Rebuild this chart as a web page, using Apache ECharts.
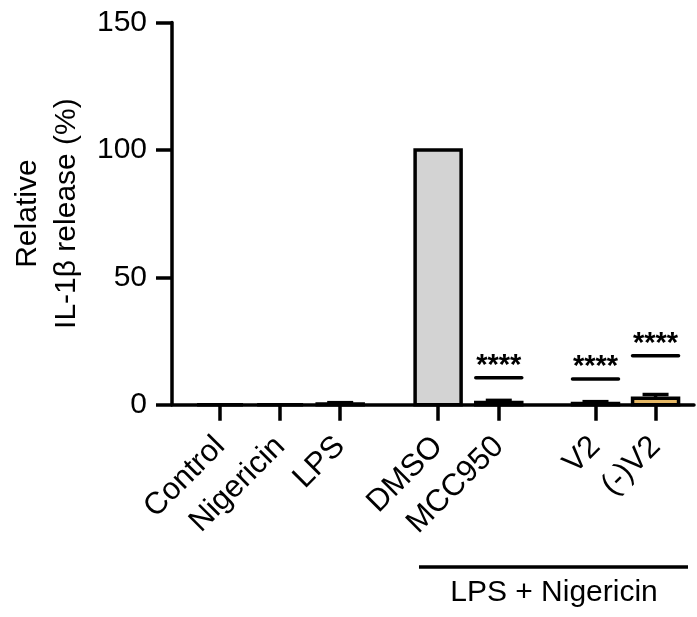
<!DOCTYPE html>
<html><head><meta charset="utf-8">
<script src="https://cdn.jsdelivr.net/npm/echarts@6/dist/echarts.min.js"></script>
<style>html,body{margin:0;padding:0;background:#fff}#c{width:697px;height:617px}</style>
</head><body><div id="c"></div>
<script>
// ---- data ----
const categories = ['Control', 'Nigericin', 'LPS', 'DMSO', 'MCC950', 'V2', '(-)V2'];
const meanValues = [0, 0, 0.3, 100, 0.9, 0.5, 2.5];
const upperErrors = [null, null, 0.8, null, 1.7, 1.2, 4.0];
const yTickLabels = [0, 50, 100, 150];
const sigGroups = ['MCC950', 'V2', '(-)V2'];
const sigLevels = [10.6, 10.1, 19.2];
const sigLabels = ['****', '****', '****'];
const groupLabel = 'LPS + Nigericin';
const yTitle = 'Relative\nIL-1β release (%)';

// ---- layout / style ----
const slotPositions = [0, 1, 2, 3.63, 4.64, 6.25, 7.25];
const barFills = ['#d3d3d3', '#d3d3d3', '#d3d3d3', '#d3d3d3', '#d3d3d3', '#d3d3d3', '#e6b865'];
const FONT = 'Liberation Sans, Arial, sans-serif';
const LW = 3.5;

function nameAt(v) {
  let best = 0, d = Infinity;
  slotPositions.forEach((p, i) => { if (Math.abs(p - v) < d) { d = Math.abs(p - v); best = i; } });
  return categories[best];
}

const barData = categories.map((c, i) => [slotPositions[i], meanValues[i], upperErrors[i] == null ? '-' : upperErrors[i]]);
const sigData = sigGroups.map((g, k) => [slotPositions[categories.indexOf(g)], sigLevels[k], sigLabels[k]]);

function renderBar(params, api) {
  const i = params.dataIndex;
  const x = api.value(0), m = api.value(1), up = api.value(2);
  const base = api.coord([x, 0]);
  const top = api.coord([x, m]);
  const w = 46;
  const children = [{
    type: 'rect',
    shape: { x: base[0] - w / 2, y: top[1], width: w, height: base[1] - top[1] },
    style: { fill: barFills[i], stroke: '#000', lineWidth: LW }
  }];
  if (up != null && !isNaN(up) && up > m) {
    const pu = api.coord([x, up]);
    children.push({ type: 'line', shape: { x1: top[0], y1: top[1], x2: pu[0], y2: pu[1] }, style: { stroke: '#000', lineWidth: LW } });
    children.push({ type: 'line', shape: { x1: pu[0] - 13, y1: pu[1], x2: pu[0] + 13, y2: pu[1] }, style: { stroke: '#000', lineWidth: LW, lineCap: 'butt' } });
  }
  return { type: 'group', children };
}

function renderSig(params, api) {
  const x = api.value(0), lv = api.value(1);
  const p = api.coord([x, lv]);
  return {
    type: 'group',
    children: [
      { type: 'line', shape: { x1: p[0] - 23, y1: p[1], x2: p[0] + 23, y2: p[1] }, style: { stroke: '#000', lineWidth: LW, lineCap: 'round' } },
      { type: 'text', x: p[0], y: p[1] - 12, style: { text: sigData[params.dataIndex][2], fontSize: 29, fontWeight: 'bold', fontFamily: FONT, fill: '#000', align: 'center', verticalAlign: 'middle' } }
    ]
  };
}

const chart = echarts.init(document.getElementById('c'), null, { renderer: 'canvas' });
chart.setOption({
  animation: false,
  backgroundColor: '#fff',
  textStyle: { fontFamily: FONT },
  grid: { left: 170, right: 3, top: 22.5, bottom: 212.3, containLabel: false },
  xAxis: {
    type: 'value', min: -0.8, max: 7.89,
    splitLine: { show: false },
    axisLine: { show: true, onZero: false, lineStyle: { color: '#000', width: LW } },
    axisTick: { show: true, customValues: slotPositions, length: 16, inside: false, lineStyle: { color: '#000', width: LW } },
    axisLabel: { customValues: slotPositions, rotate: 45, margin: 37, fontSize: 31, color: '#000', fontFamily: FONT, formatter: v => nameAt(v) }
  },
  yAxis: {
    type: 'value', min: 0, max: 150, interval: 50,
    splitLine: { show: false },
    axisLine: { show: true, onZero: false, lineStyle: { color: '#000', width: LW } },
    axisTick: { show: true, length: 16, lineStyle: { color: '#000', width: LW } },
    axisLabel: { margin: 25, fontSize: 30, color: '#000', fontFamily: FONT, formatter: v => (yTickLabels.includes(v) ? String(v) : '') },
    name: yTitle, nameLocation: 'middle', nameGap: 86,
    nameTextStyle: { fontSize: 30, lineHeight: 39, color: '#000', fontFamily: FONT, align: 'center' }
  },
  series: [
    { type: 'custom', renderItem: renderBar, data: barData, clip: false, z: 3 },
    { type: 'custom', renderItem: renderSig, data: sigData, clip: false, z: 4 }
  ],
  graphic: [
    { type: 'line', shape: { x1: 419, y1: 567, x2: 688, y2: 567 }, style: { stroke: '#000', lineWidth: LW } },
    { type: 'text', x: 554, y: 592.5, style: { text: groupLabel, fontSize: 30, fontFamily: FONT, fill: '#000', align: 'center', verticalAlign: 'middle' } }
  ]
});
</script></body></html>
